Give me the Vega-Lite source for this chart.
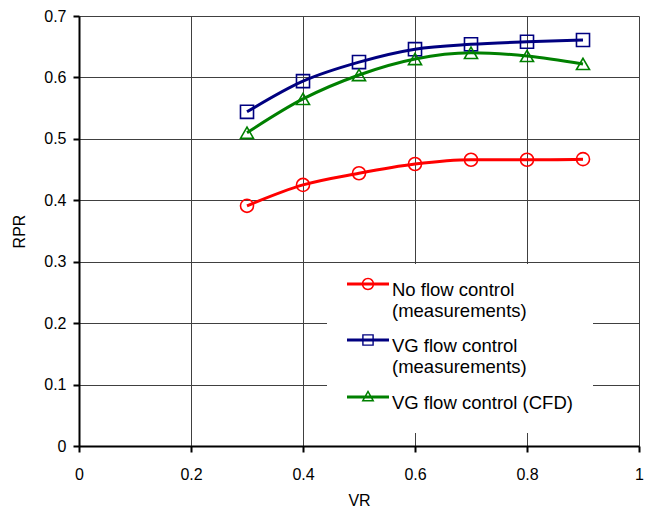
{
  "$schema": "https://vega.github.io/schema/vega-lite/v6.json",
  "width": 560,
  "height": 430,
  "autosize": "none",
  "padding": {"left": 79, "top": 16, "right": 12, "bottom": 63},
  "background": "white",
  "config": {
    "font": "Liberation Sans",
    "view": {"stroke": null},
    "axis": {
      "domainColor": "black",
      "domainWidth": 2,
      "tickColor": "black",
      "tickWidth": 2,
      "tickSize": 6,
      "gridColor": "#404040",
      "gridWidth": 1,
      "gridOpacity": 1,
      "labelFont": "Liberation Sans",
      "labelFontSize": 16,
      "labelColor": "black",
      "titleFont": "Liberation Sans",
      "titleFontSize": 16,
      "titleFontWeight": "normal",
      "titleColor": "black"
    }
  },
  "data": {
    "values": [
      {"VR": 0.3, "RPR": 0.391, "series": "No flow control|(measurements)"},
      {"VR": 0.4, "RPR": 0.425, "series": "No flow control|(measurements)"},
      {"VR": 0.5, "RPR": 0.444, "series": "No flow control|(measurements)"},
      {"VR": 0.6, "RPR": 0.459, "series": "No flow control|(measurements)"},
      {"VR": 0.7, "RPR": 0.466, "series": "No flow control|(measurements)"},
      {"VR": 0.8, "RPR": 0.466, "series": "No flow control|(measurements)"},
      {"VR": 0.9, "RPR": 0.467, "series": "No flow control|(measurements)"},
      {"VR": 0.3, "RPR": 0.544, "series": "VG flow control|(measurements)"},
      {"VR": 0.4, "RPR": 0.594, "series": "VG flow control|(measurements)"},
      {"VR": 0.5, "RPR": 0.625, "series": "VG flow control|(measurements)"},
      {"VR": 0.6, "RPR": 0.646, "series": "VG flow control|(measurements)"},
      {"VR": 0.7, "RPR": 0.654, "series": "VG flow control|(measurements)"},
      {"VR": 0.8, "RPR": 0.658, "series": "VG flow control|(measurements)"},
      {"VR": 0.9, "RPR": 0.661, "series": "VG flow control|(measurements)"},
      {"VR": 0.3, "RPR": 0.510, "series": "VG flow control (CFD)"},
      {"VR": 0.4, "RPR": 0.565, "series": "VG flow control (CFD)"},
      {"VR": 0.5, "RPR": 0.604, "series": "VG flow control (CFD)"},
      {"VR": 0.6, "RPR": 0.630, "series": "VG flow control (CFD)"},
      {"VR": 0.7, "RPR": 0.640, "series": "VG flow control (CFD)"},
      {"VR": 0.8, "RPR": 0.635, "series": "VG flow control (CFD)"},
      {"VR": 0.9, "RPR": 0.622, "series": "VG flow control (CFD)"}
    ]
  },
  "encoding": {
    "x": {
      "field": "VR", "type": "quantitative", "title": "VR",
      "scale": {"domain": [0, 1], "nice": false},
      "axis": {"values": [0, 0.2, 0.4, 0.6, 0.8, 1], "format": ".1~f", "labelPadding": 14, "titlePadding": 10, "labelFlush": false}
    },
    "y": {
      "field": "RPR", "type": "quantitative", "title": "RPR",
      "scale": {"domain": [0, 0.7], "nice": false},
      "axis": {"values": [0, 0.1, 0.2, 0.3, 0.4, 0.5, 0.6, 0.7], "format": ".1~f", "labelPadding": 7, "titlePadding": 16, "labelFlush": false}
    },
    "color": {
      "field": "series", "type": "nominal",
      "scale": {
        "domain": ["No flow control|(measurements)", "VG flow control|(measurements)", "VG flow control (CFD)"],
        "range": ["#ff0000", "#000080", "#008000"]
      },
      "legend": {
        "title": null,
        "orient": "none",
        "legendX": 248,
        "legendY": 248,
        "fillColor": "white",
        "padding": 20,
        "symbolSize": 400,
        "symbolStrokeWidth": 0,
        "labelFont": "Liberation Sans",
        "labelFontSize": 18.5,
        "labelColor": "black",
        "labelLimit": 300,
        "labelOffset": 25,
        "labelBaseline": "top",
        "labelExpr": "split(datum.label, '|')",
        "rowPadding": 13,
        "encode": {
          "labels": {"update": {"lineHeight": {"value": 21}, "dy": {"value": -13}}},
          "symbols": {
            "update": {
              "size": {"value": 400},
              "strokeWidth": {"value": 0},
              "fill": {"scale": "color", "field": "value"},
              "fillOpacity": {"value": 1},
              "opacity": {"value": 1},
              "shape": {
                "signal": "indexof(datum.value, 'No flow') == 0 ? 'M-1,-1.15L3.2,-1.15L3.2,-0.85L-1,-0.85Z M0.48,-1A0.62,0.62 0 1,1 1.72,-1A0.62,0.62 0 1,1 0.48,-1Z M0.63,-1A0.47,0.47 0 1,0 1.57,-1A0.47,0.47 0 1,0 0.63,-1Z' : indexof(datum.value, 'CFD') >= 0 ? 'M-1,-1.15L3.2,-1.15L3.2,-0.85L-1,-0.85Z M1.1,-1.7L1.75,-0.55L0.45,-0.55Z M1.1,-1.4L0.71,-0.7L1.49,-0.7Z' : 'M-1,-1.15L3.2,-1.15L3.2,-0.85L-1,-0.85Z M0.52,-1.58L1.68,-1.58L1.68,-0.42L0.52,-0.42Z M0.66,-1.44L0.66,-0.56L1.54,-0.56L1.54,-1.44Z'"
              }
            }
          }
        }
      }
    }
  },
  "layer": [
    {
      "mark": {"type": "line", "interpolate": "monotone", "strokeWidth": 3}
    },
    {
      "transform": [{"filter": "indexof(datum.series, 'No flow') == 0"}],
      "mark": {"type": "point", "shape": "circle", "filled": false, "strokeWidth": 1.6, "size": 170, "opacity": 1}
    },
    {
      "transform": [{"filter": "indexof(datum.series, 'VG flow control|') == 0"}],
      "mark": {"type": "point", "shape": "square", "filled": false, "strokeWidth": 1.6, "size": 170, "opacity": 1}
    },
    {
      "transform": [{"filter": "indexof(datum.series, 'CFD') >= 0"}],
      "mark": {"type": "point", "shape": "triangle-up", "filled": false, "strokeWidth": 1.6, "size": 170, "opacity": 1}
    }
  ]
}
